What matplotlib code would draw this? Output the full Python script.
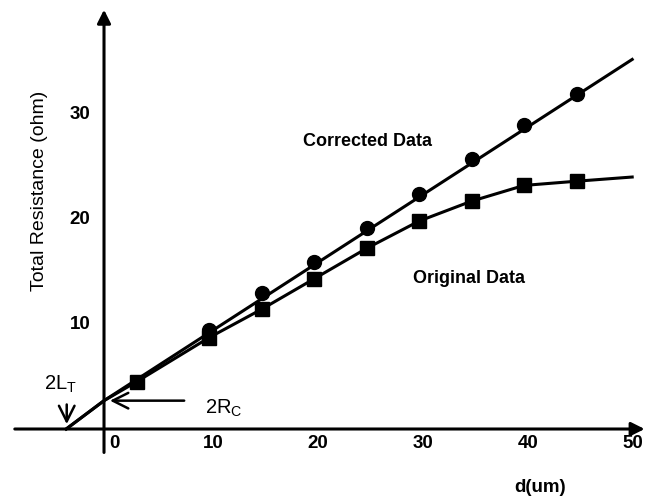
import matplotlib.pyplot as plt

plt.rcParams['font.family'] = ['Liberation Sans', 'DejaVu Sans']

# data
d_corr = [10, 15, 20, 25, 30, 35, 40, 45]
r_corr = [9.4, 13.0, 15.9, 19.1, 22.4, 25.7, 29.0, 31.9]

d_orig = [3.1, 10, 15, 20, 25, 30, 35, 40, 45]
r_orig = [4.5, 8.7, 11.4, 14.3, 17.2, 19.8, 21.7, 23.2, 23.6]

# hand drawn guide lines
fit_x = [-3.6, 0, 50.3]
fit_y = [0, 2.7, 35.2]
orig_curve_x = [-3.6, 0, 3.1, 10, 15, 20, 25, 30, 35, 40, 45, 50.3]
orig_curve_y = [0, 2.7, 4.5, 8.7, 11.4, 14.3, 17.2, 19.8, 21.7, 23.2, 23.6, 24.0]

xticks = [0, 10, 20, 30, 40, 50]
yticks = [10, 20, 30]

fig = plt.figure(figsize=(6.47, 5.01), dpi=100)
ax = fig.add_axes([0, 0, 1, 1])
ax.set_xlim(-9.905, 51.71)
ax.set_ylim(-6.857, 40.86)
ax.axis('off')

# axes with arrows
ax.annotate('', xy=(51.75, 0), xytext=(-8.76, 0),
            arrowprops=dict(arrowstyle='-|>', color='black', lw=2.2, mutation_scale=20))
ax.annotate('', xy=(0, 40.2), xytext=(0, -2.5),
            arrowprops=dict(arrowstyle='-|>', color='black', lw=2.2, mutation_scale=20))

ax.plot(fit_x, fit_y, color='black', lw=2.2)
ax.plot(orig_curve_x, orig_curve_y, color='black', lw=2.2)
ax.plot(d_corr, r_corr, 'o', color='black', ms=10)
ax.plot(d_orig, r_orig, 's', color='black', ms=10.5)

for t in xticks:
    ax.text(t + (1.0 if t == 0 else 0.4), -1.4, str(t), ha='center', va='center',
            fontsize=13.5, fontweight='bold')
for t in yticks:
    ax.text(-2.3, t, str(t), ha='center', va='center', fontsize=13.5, fontweight='bold')

ax.text(25.1, 27.4, 'Corrected Data', ha='center', va='center', fontsize=13, fontweight='bold')
ax.text(34.8, 14.3, 'Original Data', ha='center', va='center', fontsize=13, fontweight='bold')
ax.text(41.5, -5.6, 'd(um)', ha='center', va='center', fontsize=13.5, fontweight='bold')
ax.text(-6.1, 22.7, 'Total Resistance (ohm)', ha='center', va='center',
        rotation=90, fontsize=14)

ax.text(-4.1, 4.3, r'2L$_\mathregular{T}$', ha='center', va='center', fontsize=14.5)
ax.annotate('', xy=(-3.55, 0.2), xytext=(-3.55, 2.6),
            arrowprops=dict(arrowstyle='->', color='black', lw=1.8, mutation_scale=28))
ax.text(11.4, 2.0, r'2R$_\mathregular{C}$', ha='center', va='center', fontsize=14.5)
ax.annotate('', xy=(0.3, 2.7), xytext=(7.9, 2.7),
            arrowprops=dict(arrowstyle='->', color='black', lw=1.8, mutation_scale=28))

fig.savefig('out.png', dpi=100)
